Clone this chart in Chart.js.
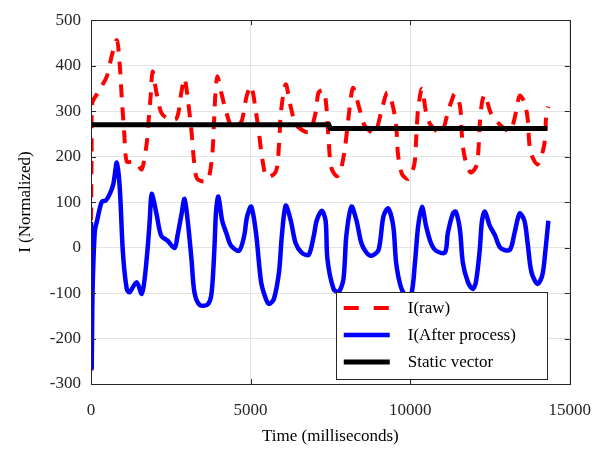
<!DOCTYPE html>
<html>
<head>
<meta charset="utf-8">
<script src="https://cdn.jsdelivr.net/npm/chart.js@4.4.1/dist/chart.umd.min.js"></script>
<style>
  html, body { margin: 0; padding: 0; background: #fff; }
  #wrap { width: 607px; height: 449px; }
</style>
</head>
<body>
<div id="wrap"><canvas id="grafico" width="607" height="449"></canvas></div>
<script>
// Dados (tempo em ms)
const rawTime = [0, 20, 40, 220, 500, 650, 810, 900, 965, 1040, 1120, 1300, 1450, 1590, 1740, 1800, 1870, 1930,
  2050, 2200, 2400, 2680, 2830, 2930, 3030, 3150, 3230, 3330, 3640, 3790, 3850, 3900, 3960, 4080, 4240, 4420,
  4600, 4730, 4880, 5020, 5170, 5260, 5360, 5510, 5790, 5890, 5950, 6100, 6250, 6440, 6820, 7040, 7130, 7290,
  7380, 7440, 7530, 7690, 7800, 7940, 8040, 8160, 8220, 8410, 8570, 8880, 9120, 9280, 9430, 9560, 9620, 9750,
  9940, 10130, 10190, 10250, 10370, 10500, 10650, 10970, 11180, 11280, 11400, 11560, 11620, 11710, 11900, 12090,
  12180, 12250, 12340, 12520, 12740, 13120, 13270, 13430, 13580, 13680, 13770, 13990, 14200, 14270, 14330];
const rawValue = [60, 205, 318, 341, 377, 422, 456, 402, 328, 254, 189, 189, 184, 172, 226, 275, 334, 387,
  341, 297, 284, 284, 341, 372, 328, 254, 189, 151, 147, 198, 269, 341, 377, 341, 297, 264,
  268, 280, 334, 355, 297, 254, 198, 155, 167, 226, 297, 359, 312, 269, 254, 297, 341, 345,
  306, 241, 176, 157, 164, 211, 269, 338, 351, 306, 269, 252, 306, 341, 319, 269, 204, 161,
  151, 183, 241, 306, 349, 297, 269, 252, 297, 319, 338, 312, 248, 198, 165, 183,
  269, 319, 336, 297, 275, 256, 284, 334, 319, 284, 211, 183, 226, 297, 310];

const procTime = [0, 20, 50, 120, 190, 340, 460, 590, 700, 810, 900, 1000, 1120, 1210, 1430, 1590, 1680, 1770,
  1840, 1900, 2050, 2200, 2400, 2620, 2710, 2840, 2930, 3030, 3150, 3240, 3400, 3640, 3770, 3860, 3920, 3990,
  4110, 4240, 4390, 4640, 4800, 4890, 5020, 5170, 5330, 5480, 5580, 5730, 5890, 5980, 6100, 6260, 6410, 6600,
  6820, 6980, 7070, 7230, 7350, 7410, 7600, 7760, 7910, 8000, 8160, 8320, 8470, 8630, 8790, 9010, 9160, 9310,
  9470, 9560, 9690, 9840, 10030, 10150, 10250, 10370, 10500, 10650, 10810, 11090, 11180, 11340, 11430, 11560,
  11650, 11810, 11960, 12060, 12180, 12250, 12340, 12500, 12650, 12830, 13120, 13270, 13430, 13580, 13680,
  13800, 13990, 14140, 14240, 14330];
const procValue = [56, -265, -93, 36, 59, 101, 103, 118, 140, 187, 133, -11, -91, -98, -76, -102, -69, -5,
  59, 118, 75, 26, 15, -1, 26, 75, 107, 59, -27, -98, -126, -126, -104, -11, 81, 112,
  59, 32, 4, -7, 26, 68, 90, 32, -76, -113, -124, -113, -54, 26, 92, 59, 10, -11,
  -16, 26, 59, 81, 59, -27, -91, -98, -69, 26, 90, 59, 10, -11, -18, -5, 68, 86,
  47, -33, -82, -104, -104, -33, 47, 90, 47, 10, -7, -11, 32, 75, 79, 39,
  -33, -76, -91, -76, -5, 59, 79, 47, 28, -1, -5, 32, 75, 59, 10,
  -54, -80, -61, -5, 59];

const staticTime = [0, 7450, 7500, 14300];
const staticValue = [270, 270, 262, 262];

const xTicks = [0, 5000, 10000, 15000];
const yTicks = [-300, -200, -100, 0, 100, 200, 300, 400, 500];

const legendLabels = ['I(raw)', 'I(After process)', 'Static vector'];

const corTexto = '#262626';
const fonteSerif = '"Liberation Serif", "Times New Roman", serif';

function pontos(xs, ys) {
  return xs.map((x, i) => ({ x: x, y: ys[i] }));
}

// Moldura da caixa e ticks para dentro (estilo MATLAB)
const molduraPlugin = {
  id: 'moldura',
  afterDraw(chart) {
    const { ctx, chartArea: a, scales } = chart;
    ctx.save();
    ctx.strokeStyle = corTexto;
    ctx.lineWidth = 1;
    ctx.beginPath();
    xTicks.forEach(v => {
      const px = Math.round(scales.x.getPixelForValue(v)) + 0.5;
      ctx.moveTo(px, a.bottom); ctx.lineTo(px, a.bottom - 5);
      ctx.moveTo(px, a.top); ctx.lineTo(px, a.top + 5);
    });
    yTicks.forEach(v => {
      const py = Math.round(scales.y.getPixelForValue(v)) + 0.5;
      ctx.moveTo(a.left, py); ctx.lineTo(a.left + 5, py);
      ctx.moveTo(a.right, py); ctx.lineTo(a.right - 5, py);
    });
    ctx.stroke();
    ctx.strokeRect(Math.round(a.left) + 0.5, Math.round(a.top) + 0.5,
      Math.round(a.right - a.left), Math.round(a.bottom - a.top));
    ctx.restore();
  }
};

// Legenda desenhada dentro da area do grafico, canto inferior direito
const legendaPlugin = {
  id: 'legendaInterna',
  afterDatasetsDraw(chart) {
    const { ctx, chartArea: a } = chart;
    const w = 211, h = 87;
    const x0 = a.right - 23 - w;
    const y0 = a.bottom - 5 - h;
    ctx.save();
    ctx.fillStyle = '#fff';
    ctx.fillRect(x0, y0, w, h);
    ctx.strokeStyle = corTexto;
    ctx.lineWidth = 1;
    ctx.strokeRect(Math.round(x0) + 0.5, Math.round(y0) + 0.5, w, h);

    chart.data.datasets.forEach((ds, i) => {
      const ly = y0 + 16 + i * 27;
      ctx.beginPath();
      ctx.strokeStyle = ds.borderColor;
      ctx.lineWidth = ds.borderWidth;
      ctx.setLineDash(i === 0 ? [15, 15] : []);
      ctx.moveTo(x0 + 8, ly);
      ctx.lineTo(x0 + 54, ly);
      ctx.stroke();
      ctx.setLineDash([]);
      ctx.fillStyle = '#000';
      ctx.font = '17px ' + fonteSerif;
      ctx.textBaseline = 'middle';
      ctx.fillText(legendLabels[i], x0 + 72, ly + 1);
    });
    ctx.restore();
  }
};

document.addEventListener('DOMContentLoaded', function() {
  const ctx = document.getElementById('grafico').getContext('2d');

  new Chart(ctx, {
    type: 'line',
    data: {
      datasets: [
        {
          label: legendLabels[0],
          data: pontos(rawTime, rawValue),
          borderColor: '#ff0000',
          borderWidth: 4,
          borderDash: [13, 10],
          pointRadius: 0,
          tension: 0.3,
          order: 3
        },
        {
          label: legendLabels[1],
          data: pontos(procTime, procValue),
          borderColor: '#0000ff',
          borderWidth: 4.5,
          pointRadius: 0,
          tension: 0.3,
          order: 2
        },
        {
          label: legendLabels[2],
          data: pontos(staticTime, staticValue),
          borderColor: '#000000',
          borderWidth: 5,
          pointRadius: 0,
          tension: 0,
          order: 1
        }
      ]
    },
    options: {
      responsive: false,
      animation: false,
      devicePixelRatio: 1,
      layout: { padding: { left: 0, top: 13, right: 35, bottom: 0 } },
      plugins: {
        legend: { display: false },
        tooltip: { enabled: false }
      },
      scales: {
        x: {
          type: 'linear',
          min: 0,
          max: 15000,
          afterBuildTicks: s => { s.ticks = xTicks.map(v => ({ value: v })); },
          afterFit: s => { s.height = 65; },
          ticks: {
            color: corTexto,
            font: { family: fonteSerif, size: 17 },
            padding: 16,
            maxRotation: 0,
            callback: v => String(v)
          },
          grid: { color: '#e3e3e3', drawTicks: false },
          border: { display: false },
          title: {
            display: true,
            text: 'Time (milliseconds)',
            color: '#000',
            font: { family: fonteSerif, size: 17 },
            padding: { top: 0, bottom: 2 }
          }
        },
        y: {
          min: -300,
          max: 500,
          afterBuildTicks: s => { s.ticks = yTicks.map(v => ({ value: v })); },
          afterFit: s => { s.width = 91; },
          ticks: {
            color: corTexto,
            font: { family: fonteSerif, size: 17 },
            padding: 10
          },
          grid: { color: '#e3e3e3', drawTicks: false },
          border: { display: false },
          title: {
            display: true,
            text: 'I (Normalized)',
            color: '#000',
            font: { family: fonteSerif, size: 17 },
            padding: { top: 15, bottom: 0 }
          }
        }
      }
    },
    plugins: [molduraPlugin, legendaPlugin]
  });
});
</script>
</body>
</html>
